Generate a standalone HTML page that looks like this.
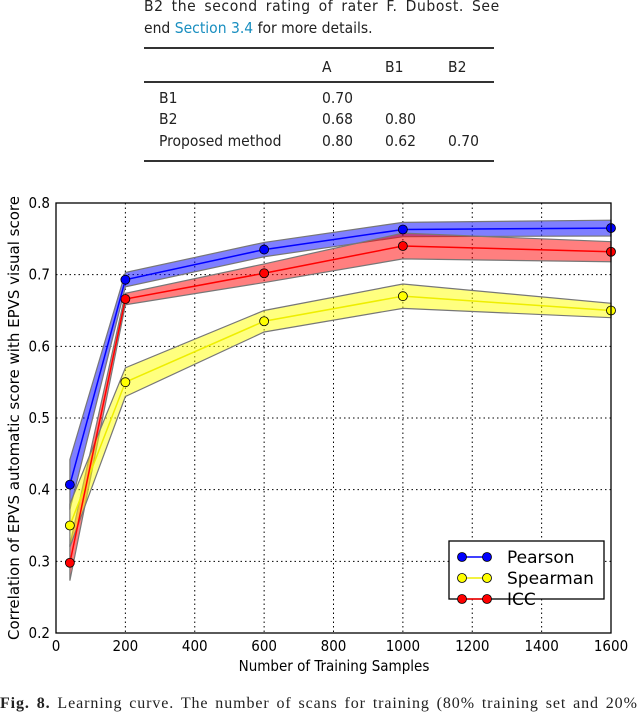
<!DOCTYPE html>
<html><head><meta charset="utf-8"><style>
body{margin:0;background:#fff;width:640px;height:708px;overflow:hidden;position:relative;font-family:"DejaVu Sans Condensed","Liberation Sans",sans-serif}
.t{position:absolute;font-size:15.5px;color:#222;white-space:nowrap;font-family:"DejaVu Sans Condensed","Liberation Sans",sans-serif}
.rule{position:absolute;left:144px;width:350px;height:2px;background:#333}
</style></head><body>
<div class="t" style="left:144px;top:-3px;letter-spacing:0.6px;word-spacing:3px">B2 the second rating of rater F. Dubost. See</div>
<div class="t" style="left:144px;top:19px">end <span style="color:#1a8fc0">Section 3.4</span> for more details.</div>
<div class="rule" style="top:47px"></div>
<div class="rule" style="top:81px"></div>
<div class="rule" style="top:160px"></div>
<div class="t" style="left:322px;top:58px">A</div>
<div class="t" style="left:385px;top:58px">B1</div>
<div class="t" style="left:448px;top:58px">B2</div>
<div class="t" style="left:159px;top:89px">B1</div>
<div class="t" style="left:322px;top:89px">0.70</div>
<div class="t" style="left:159px;top:110px">B2</div>
<div class="t" style="left:322px;top:110px">0.68</div>
<div class="t" style="left:385px;top:110px">0.80</div>
<div class="t" style="left:159px;top:132px">Proposed method</div>
<div class="t" style="left:322px;top:132px">0.80</div>
<div class="t" style="left:385px;top:132px">0.62</div>
<div class="t" style="left:448px;top:132px">0.70</div>
<svg id="chart" width="640" height="708" style="position:absolute;left:0;top:0"></svg>
<div class="t" style="left:0;top:695px;font-family:'Liberation Serif',serif;font-size:16px;letter-spacing:0.9px;word-spacing:2px"><b>Fig. 8.</b> Learning curve. The number of scans for training (80% training set and 20%</div>
<script>
const xs=[40,200,600,1000,1600];
const pearson=[0.407,0.693,0.735,0.763,0.765];
const pearsonErr=[0.035,0.01,0.01,0.01,0.011];
const spearman=[0.35,0.55,0.635,0.67,0.65];
const spearmanErr=[0.03,0.02,0.015,0.017,0.01];
const icc=[0.298,0.666,0.702,0.740,0.732];
const iccErr=[0.025,0.008,0.013,0.018,0.014];
const xTicks=[0,200,400,600,800,1000,1200,1400,1600];
const yTicks=[0.2,0.3,0.4,0.5,0.6,0.7,0.8];
const L=56,R=611,T=203,B=633;
const X=v=>L+(v-0)/1600*(R-L);
const Y=v=>B-(v-0.2)/0.6*(B-T);
const svg=document.getElementById('chart');const NS='http://www.w3.org/2000/svg';
function mk(tag,attrs,parent){const e=document.createElementNS(NS,tag);for(const k in attrs)e.setAttribute(k,attrs[k]);(parent||svg).appendChild(e);return e;}
let g,e;
xTicks.forEach(v=>{
 e=mk('line',{x1:X(v),x2:X(v),y1:T,y2:B,stroke:'#000','stroke-dasharray':'1.5,3','stroke-width':1});
 
 
 e=mk('text',{x:X(v),y:B+18,'text-anchor':'middle','font-size':15,'font-family':'DejaVu Sans Condensed, Liberation Sans, sans-serif',fill:'#000'});e.textContent=v;
 
 
});
yTicks.forEach(v=>{
 e=mk('line',{x1:L,x2:R,y1:Y(v),y2:Y(v),stroke:'#000','stroke-dasharray':'1.5,3','stroke-width':1});
 
 
 e=mk('text',{x:L-6,y:Y(v)+5,'text-anchor':'end','font-size':15,'font-family':'DejaVu Sans Condensed, Liberation Sans, sans-serif',fill:'#000'});e.textContent=v.toFixed(1);
 
 
});
const series=[[spearman,spearmanErr,'#ffff00','#eeee00','spearman'],[icc,iccErr,'#ff0000','#ff0000','icc'],[pearson,pearsonErr,'#0000ff','#0000ff','pearson']];
const fills={pearson:'rgba(0,0,255,0.5)',spearman:'rgba(255,255,0,0.5)',icc:'rgba(255,0,0,0.5)'};
[series[2],series[1],series[0]].forEach(s=>{
 const [vals,err,,,name]=s;
 let d='';xs.forEach((x,i)=>d+=(i?'L':'M')+X(x)+','+Y(vals[i]+err[i]));
 for(let i=xs.length-1;i>=0;i--)d+='L'+X(xs[i])+','+Y(vals[i]-err[i]);
 e=mk('path',{d:d+'Z',fill:fills[name],stroke:'#777','stroke-width':1.2});
 
 
});
series.forEach(s=>{
 const [vals,,c,lc,name]=s;
 e=mk('polyline',{points:xs.map((x,i)=>X(x)+','+Y(vals[i])).join(' '),fill:'none',stroke:lc,'stroke-width':1.5});
 
 
 xs.forEach((x,i)=>{
  e=mk('circle',{cx:X(x),cy:Y(vals[i]),r:4.5,fill:c,stroke:'#000','stroke-width':0.8});
  
  
 });
});
e=mk('rect',{x:L,y:T,width:R-L,height:B-T,fill:'none',stroke:'#000','stroke-width':1.3});


e=mk('text',{x:334,y:671,'text-anchor':'middle','font-size':15,'font-family':'DejaVu Sans Condensed, Liberation Sans, sans-serif'});e.textContent='Number of Training Samples';


e=mk('text',{x:0,y:0,transform:'translate(19,418) rotate(-90)','text-anchor':'middle','font-size':15,'font-family':'DejaVu Sans, Liberation Sans, sans-serif'});e.textContent='Correlation of EPVS automatic score with EPVS visual score';


g=mk('g',{});


mk('rect',{x:449,y:541,width:155,height:58,fill:'#fff',stroke:'#000','stroke-width':1.3},g);
[['Pearson','#0000ff','#0000ff'],['Spearman','#ffff00','#eeee00'],['ICC','#ff0000','#ff0000']].forEach((l,i)=>{
 const y=557+i*21;
 mk('line',{x1:462,x2:487,y1:y,y2:y,stroke:l[2],'stroke-width':1.5},g);
 mk('circle',{cx:462,cy:y,r:4.5,fill:l[1],stroke:'#000','stroke-width':0.8},g);
 mk('circle',{cx:487,cy:y,r:4.5,fill:l[1],stroke:'#000','stroke-width':0.8},g);
 e=mk('text',{x:507,y:y+6,'font-size':17,'font-family':'DejaVu Sans, Liberation Sans, sans-serif'},g);e.textContent=l[0];
 
 
});
</script>
</body></html>
